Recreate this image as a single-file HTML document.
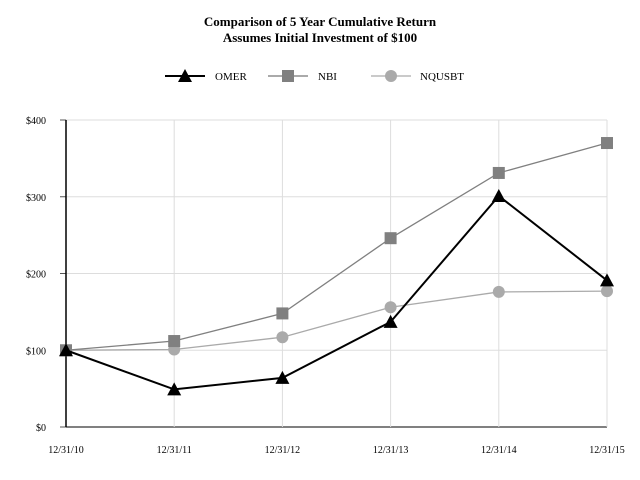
<!DOCTYPE html>
<html><head><meta charset="utf-8"><style>
body{margin:0;background:#fff;}
svg{display:block;font-family:"Liberation Serif",serif;}
</style></head><body>
<svg id="c" width="640" height="480">
<text x="320" y="26" text-anchor="middle" font-size="13" font-weight="bold">Comparison of 5 Year Cumulative Return</text>
<text x="320" y="42" text-anchor="middle" font-size="13" font-weight="bold">Assumes Initial Investment of $100</text>
<g>
<g><line x1="165" y1="76" x2="205" y2="76" stroke="#000" stroke-width="2"/><polygon points="185,69 192,82 178,82" fill="#000"/><text x="215" y="80" font-size="11">OMER</text></g>
<g><line x1="268" y1="76" x2="308" y2="76" stroke="#777" stroke-width="1.3"/><rect x="282" y="70" width="12" height="12" fill="#808080"/><text x="318" y="80" font-size="11">NBI</text></g>
<g><line x1="371" y1="76" x2="411" y2="76" stroke="#aaa" stroke-width="1.3"/><circle cx="391" cy="76" r="6" fill="#aaa"/><text x="420" y="80" font-size="11">NQUSBT</text></g>
</g>
<g id="plot"></g>
</svg>
<script>
const categories=["12/31/10","12/31/11","12/31/12","12/31/13","12/31/14","12/31/15"];
const omer=[100,49,64,137,301,191];
const nbi=[100,112,148,246,331,370];
const nqusbt=[100,101,117,156,176,177];
const yTicks=[0,100,200,300,400];
const yTickLabels=["$0","$100","$200","$300","$400"];
const X0=66,X1=607,Y0=427,Y1=120;
const xs=i=>X0+(X1-X0)*i/(categories.length-1);
const ys=v=>Y0-(Y0-Y1)*v/400;
const ns="http://www.w3.org/2000/svg";
const g=document.getElementById('plot');
function mk(t,a,p){const e=document.createElementNS(ns,t);for(const k in a)e.setAttribute(k,a[k]);(p||g).appendChild(e);return e;}
yTicks.forEach((v,i)=>{
  const l=mk('line',{x1:X0,x2:X1,y1:ys(v),y2:ys(v),stroke:v===0?'#000':'#ddd','stroke-width':1});
  
  
  const tk=mk('line',{x1:X0-6,x2:X0,y1:ys(v),y2:ys(v),stroke:'#555','stroke-width':1});
  
  
  const t=mk('text',{x:X0-20,y:ys(v)+4,'text-anchor':'end','font-size':10});
  t.textContent=yTickLabels[i];
  
  
});
categories.forEach((c,i)=>{
  if(i>0){const l=mk('line',{x1:xs(i),x2:xs(i),y1:Y1,y2:Y0,stroke:'#ddd','stroke-width':1});
  
  }
  const t=mk('text',{x:xs(i),y:453,'text-anchor':'middle','font-size':10});
  t.textContent=c;
  
  
});
const ax=mk('line',{x1:X0,x2:X0,y1:Y1,y2:Y0,stroke:'#000','stroke-width':1.5});


function series(d,col,w,marker,name){
  const p=mk('polyline',{points:d.map((v,i)=>xs(i)+','+ys(v)).join(' '),fill:'none',stroke:col,'stroke-width':w});
  
  
  d.forEach((v,i)=>{
    const x=xs(i),y=ys(v);let m;
    if(marker==='tri')m=mk('polygon',{points:`${x},${y-7} ${x+7},${y+6} ${x-7},${y+6}`,fill:col});
    else if(marker==='sq')m=mk('rect',{x:x-6,y:y-6,width:12,height:12,fill:col});
    else m=mk('circle',{cx:x,cy:y,r:6,fill:col});
    
    
  });
}
series(nqusbt,'#aaa',1.3,'circ','nqusbt');
series(nbi,'#808080',1.3,'sq','nbi');
series(omer,'#000',2,'tri','omer');
</script>
</body></html>
